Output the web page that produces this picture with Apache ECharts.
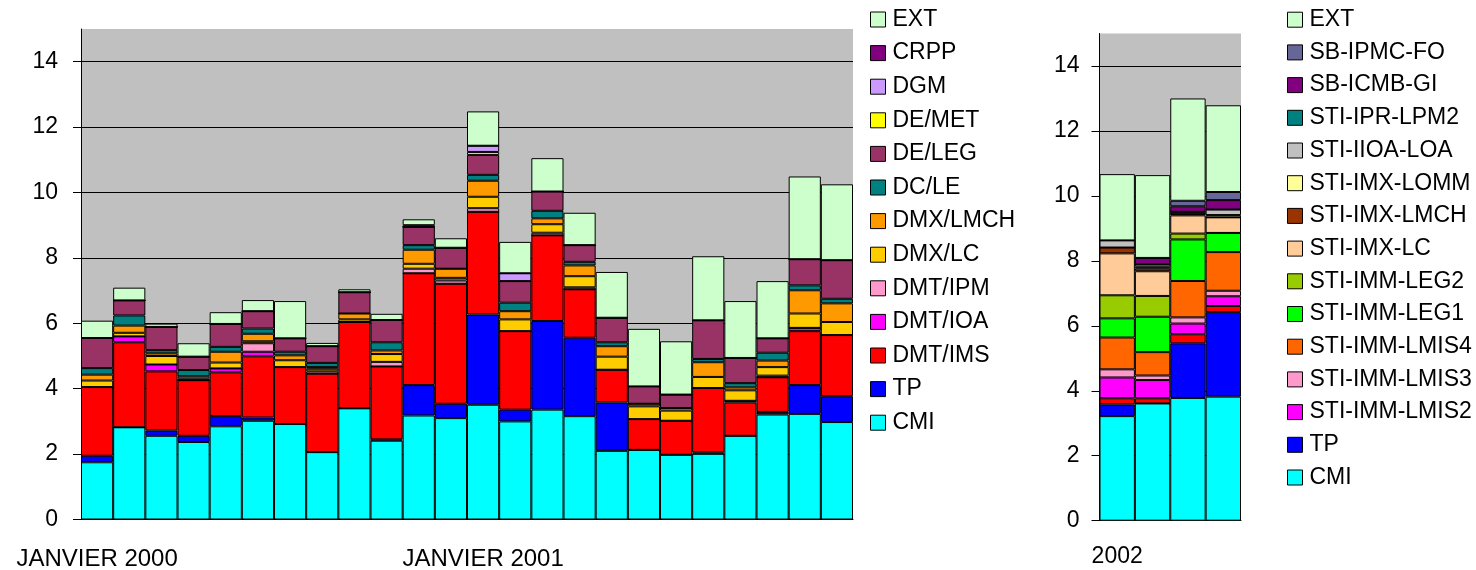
<!DOCTYPE html>
<html lang="fr">
<head>
  <meta charset="UTF-8">
  <title>Répartition mensuelle</title>
  <style>
    body { margin: 0; background: #fff; }
    #chart { width: 1476px; height: 570px; }
  </style>
  <script src="https://cdn.jsdelivr.net/npm/echarts@6/dist/echarts.min.js"></script>
</head>
<body>
  <div id="chart"></div>
  <script>
    // --- 2000-2001 (mensuel) ---
    const months = [
      'JANVIER 2000', 'FEVRIER 2000', 'MARS 2000', 'AVRIL 2000', 'MAI 2000', 'JUIN 2000',
      'JUILLET 2000', 'AOUT 2000', 'SEPTEMBRE 2000', 'OCTOBRE 2000', 'NOVEMBRE 2000', 'DECEMBRE 2000',
      'JANVIER 2001', 'FEVRIER 2001', 'MARS 2001', 'AVRIL 2001', 'MAI 2001', 'JUIN 2001',
      'JUILLET 2001', 'AOUT 2001', 'SEPTEMBRE 2001', 'OCTOBRE 2001', 'NOVEMBRE 2001', 'DECEMBRE 2001'
    ];
    const cmi     = [1.75, 2.82, 2.56, 2.37, 2.85, 3.02, 2.92, 2.06, 3.40, 2.41, 3.18, 3.10, 3.51, 3.00, 3.36, 3.16, 2.10, 2.13, 1.98, 2.01, 2.56, 3.21, 3.23, 2.98];
    const tp      = [0.20, 0, 0.16, 0.19, 0.31, 0.10, 0, 0, 0, 0.04, 0.93, 0.44, 2.76, 0.36, 2.71, 2.40, 1.48, 0, 0, 0.04, 0, 0.08, 0.88, 0.79];
    const dmtIms  = [2.10, 2.60, 1.81, 1.70, 1.34, 1.87, 1.74, 2.40, 2.64, 2.23, 3.42, 3.67, 3.14, 2.40, 2.62, 1.48, 1.00, 0.94, 1.04, 1.97, 1.02, 1.06, 1.65, 1.87];
    const dmtIoa  = [0, 0.18, 0.21, 0, 0.12, 0.14, 0, 0, 0, 0, 0, 0, 0, 0, 0, 0, 0, 0, 0, 0, 0.05, 0, 0.10, 0];
    const dmtIpm  = [0, 0, 0, 0, 0, 0.26, 0, 0.07, 0, 0.14, 0.14, 0.10, 0.11, 0, 0.08, 0.06, 0, 0, 0, 0, 0, 0.05, 0, 0];
    const dmxLc   = [0.20, 0.11, 0.26, 0.05, 0.18, 0.06, 0.21, 0.08, 0.08, 0.24, 0.15, 0.08, 0.35, 0.36, 0.26, 0.34, 0.40, 0.39, 0.31, 0.34, 0.32, 0.26, 0.44, 0.40];
    const dmxLmch = [0.18, 0.22, 0.08, 0.07, 0.33, 0.23, 0.15, 0.05, 0.18, 0.11, 0.43, 0.28, 0.49, 0.25, 0.18, 0.33, 0.32, 0.08, 0.08, 0.45, 0.09, 0.20, 0.71, 0.57];
    const dcLe    = [0.20, 0.31, 0.10, 0.19, 0.15, 0.16, 0.11, 0.13, 0, 0.25, 0.14, 0, 0.18, 0.26, 0.23, 0.11, 0.12, 0, 0, 0.10, 0.13, 0.24, 0.15, 0.14];
    const deLeg   = [0.92, 0.46, 0.71, 0.41, 0.70, 0.53, 0.41, 0.51, 0.65, 0.68, 0.56, 0.64, 0.61, 0.66, 0.59, 0.51, 0.75, 0.53, 0.41, 1.18, 0.77, 0.44, 0.80, 1.18];
    const deMet   = [0, 0, 0, 0, 0, 0, 0, 0, 0, 0, 0, 0, 0.09, 0, 0, 0, 0, 0, 0, 0, 0, 0, 0, 0];
    const dgm     = [0, 0, 0, 0, 0, 0, 0, 0, 0, 0, 0, 0, 0.19, 0.24, 0, 0, 0, 0, 0, 0, 0, 0, 0, 0];
    const crpp    = [0, 0, 0, 0, 0, 0, 0, 0, 0, 0, 0.05, 0, 0, 0, 0, 0, 0, 0, 0, 0, 0, 0, 0, 0];
    const ext     = [0.53, 0.39, 0.10, 0.41, 0.36, 0.34, 1.14, 0.10, 0.09, 0.19, 0.18, 0.29, 1.05, 0.96, 1.02, 0.99, 1.40, 1.76, 1.63, 1.96, 1.74, 1.75, 2.53, 2.32];

    // --- 2002 ---
    const periods2002 = ['2002', '', '', ''];
    const cmi02     = [3.22, 3.61, 3.78, 3.82];
    const tp02      = [0.36, 0, 1.68, 2.60];
    const lmis1_02  = [0.19, 0.16, 0.28, 0.19];
    const lmis2_02  = [0.64, 0.56, 0.33, 0.30];
    const lmis3_02  = [0.25, 0.14, 0.19, 0.17];
    const lmis4_02  = [0.98, 0.72, 1.12, 1.19];
    const leg1_02   = [0.59, 1.09, 1.28, 0.59];
    const leg2_02   = [0.71, 0.64, 0.18, 0];
    const imxLc02   = [1.29, 0.76, 0.56, 0.48];
    const imxLmch02 = [0.18, 0.09, 0.05, 0];
    const imxLomm02 = [0, 0.05, 0, 0.07];
    const iioa02    = [0.22, 0.07, 0.06, 0.17];
    const lpm2_02   = [0, 0, 0, 0];
    const icmb02    = [0, 0.20, 0.17, 0.29];
    const ipmc02    = [0, 0, 0.17, 0.25];
    const ext02     = [2.04, 2.55, 3.15, 2.67];

    const yTicks = [0, 2, 4, 6, 8, 10, 12, 14];

    // bas -> haut
    const leftSeries = [
      ['CMI', cmi, '#00FFFF'],
      ['TP', tp, '#0000FF'],
      ['DMT/IMS', dmtIms, '#FF0000'],
      ['DMT/IOA', dmtIoa, '#FF00FF'],
      ['DMT/IPM', dmtIpm, '#FF99CC'],
      ['DMX/LC', dmxLc, '#FFCC00'],
      ['DMX/LMCH', dmxLmch, '#FF9900'],
      ['DC/LE', dcLe, '#008080'],
      ['DE/LEG', deLeg, '#993366'],
      ['DE/MET', deMet, '#FFFF00'],
      ['DGM', dgm, '#CC99FF'],
      ['CRPP', crpp, '#800080'],
      ['EXT', ext, '#CCFFCC']
    ];
    const rightSeries = [
      ['CMI', cmi02, '#00FFFF'],
      ['TP', tp02, '#0000FF'],
      ['STI-IMM-LMIS1', lmis1_02, '#FF0000'],
      ['STI-IMM-LMIS2', lmis2_02, '#FF00FF'],
      ['STI-IMM-LMIS3', lmis3_02, '#FF99CC'],
      ['STI-IMM-LMIS4', lmis4_02, '#FF6600'],
      ['STI-IMM-LEG1', leg1_02, '#00FF00'],
      ['STI-IMM-LEG2', leg2_02, '#99CC00'],
      ['STI-IMX-LC', imxLc02, '#FFCC99'],
      ['STI-IMX-LMCH', imxLmch02, '#993300'],
      ['STI-IMX-LOMM', imxLomm02, '#FFFF99'],
      ['STI-IIOA-LOA', iioa02, '#C0C0C0'],
      ['STI-IPR-LPM2', lpm2_02, '#008080'],
      ['SB-ICMB-GI', icmb02, '#800080'],
      ['SB-IPMC-FO', ipmc02, '#666699'],
      ['EXT', ext02, '#CCFFCC']
    ];

    const font = "'Liberation Sans', Arial, sans-serif";

    function makeSeries(list, idx) {
      return list.map(([name, data, color]) => ({
        name: name,
        type: 'bar',
        stack: 'p' + idx,
        xAxisIndex: idx,
        yAxisIndex: idx,
        barCategoryGap: '0%',
        data: data,
        itemStyle: { color: color, borderColor: '#000', borderWidth: 1 }
      }));
    }

    function yAxis(idx, margin) {
      return {
        type: 'value',
        gridIndex: idx,
        min: 0,
        max: 15,
        interval: 2,
        axisLine: { show: true, lineStyle: { color: '#000' } },
        axisTick: { show: true, length: 8, customValues: yTicks, lineStyle: { color: '#000' } },
        axisLabel: { margin: margin, fontSize: 23, color: '#000', customValues: yTicks },
        splitLine: { show: true, lineStyle: { color: '#000', width: 1 } }
      };
    }

    const chart = echarts.init(document.getElementById('chart'));
    chart.setOption({
      animation: false,
      textStyle: { fontFamily: font, color: '#000' },
      grid: [
        { left: 81, width: 772, top: 29, bottom: 50.5, show: true, backgroundColor: '#C0C0C0', borderWidth: 0, outerBoundsMode: 'none' },
        { left: 1099.5, width: 141.5, top: 33.5, bottom: 49.3, show: true, backgroundColor: '#C0C0C0', borderWidth: 0, outerBoundsMode: 'none' }
      ],
      xAxis: [
        {
          type: 'category', gridIndex: 0, data: months,
          axisLine: { lineStyle: { color: '#000' } },
          axisTick: { length: 8, lineStyle: { color: '#000' } },
          axisLabel: { interval: (i) => i % 12 === 0, margin: 28, fontSize: 24, color: '#000' }
        },
        {
          type: 'category', gridIndex: 1, data: periods2002,
          axisLine: { lineStyle: { color: '#000' } },
          axisTick: { length: 8, lineStyle: { color: '#000' } },
          axisLabel: { interval: 0, margin: 24, fontSize: 23, color: '#000' }
        }
      ],
      yAxis: [yAxis(0, 23), yAxis(1, 20)],
      legend: [
        {
          orient: 'vertical', left: 870, top: 7.5, padding: 0, itemWidth: 15, itemHeight: 15, itemGap: 9.6,
          icon: 'rect', selectedMode: false,
          itemStyle: { borderColor: '#000', borderWidth: 1 },
          textStyle: { fontSize: 23, lineHeight: 24, color: '#000', padding: [0, 0, 0, 2] },
          data: leftSeries.map(s => s[0]).reverse()
        },
        {
          orient: 'vertical', left: 1287, top: 7.7, padding: 0, itemWidth: 15, itemHeight: 15, itemGap: 8.7,
          icon: 'rect', selectedMode: false,
          itemStyle: { borderColor: '#000', borderWidth: 1 },
          textStyle: { fontSize: 23, lineHeight: 24, color: '#000', padding: [0, 0, 0, 2] },
          data: rightSeries.map(s => s[0]).filter(n => n !== 'STI-IMM-LMIS1').reverse()
        }
      ],
      series: makeSeries(leftSeries, 0).concat(makeSeries(rightSeries, 1))
    });
  </script>
</body>
</html>
